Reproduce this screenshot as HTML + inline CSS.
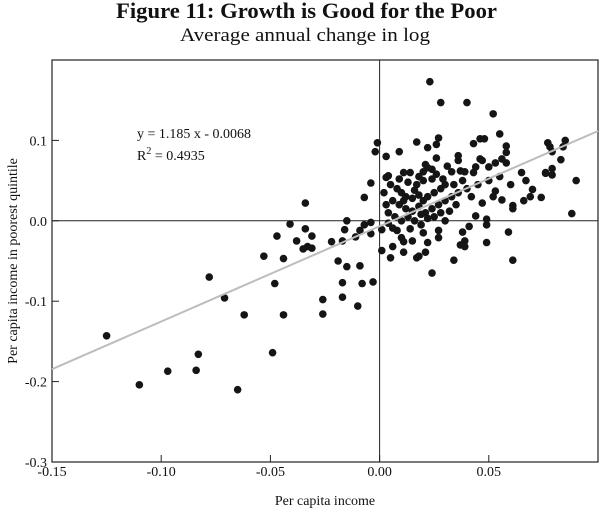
<!DOCTYPE html>
<html><head><meta charset="utf-8"><style>
body{margin:0;background:#fff;}
svg{display:block;font-family:"Liberation Serif",serif;}
</style></head><body>
<svg id="chart" width="600" height="511" viewBox="0 0 600 511">
<text x="116" y="18" font-size="22" font-weight="bold" fill="#111" textLength="381" lengthAdjust="spacingAndGlyphs">Figure 11: Growth is Good for the Poor</text>
<text x="180" y="41" font-size="19" fill="#111" textLength="250" lengthAdjust="spacingAndGlyphs">Average annual change in log</text>
<g id="plot"></g>
<text x="137" y="138" font-size="14" fill="#111">y = 1.185 x - 0.0068</text>
<text x="137" y="160" font-size="14" fill="#111">R<tspan dy="-6" font-size="10">2</tspan><tspan dy="6"> = 0.4935</tspan></text>
<text x="325" y="505" text-anchor="middle" font-size="14" fill="#111">Per capita income</text>
<text transform="translate(17,261) rotate(-90)" text-anchor="middle" font-size="14" fill="#111">Per capita income in poorest quintile</text>
</svg>
<script>
const xTicks=[-0.15,-0.10,-0.05,0.00,0.05];
const xTickLabels=["-0.15","-0.10","-0.05","0.00","0.05"];
const yTicks=[0.1,0.0,-0.1,-0.2,-0.3];
const yTickLabels=["0.1","0.0","-0.1","-0.2","-0.3"];
const slope=1.185, intercept=-0.0068;
const xs=[-0.004,-0.007,-0.034,-0.041,-0.015,-0.034,-0.047,-0.031,-0.038,-0.022,-0.017,-0.011,-0.009,-0.016,-0.007,-0.004,-0.004,-0.035,-0.033,-0.031,-0.053,-0.044,-0.019,-0.015,-0.009,-0.078,-0.048,-0.017,-0.008,-0.003,-0.071,-0.026,-0.017,-0.062,-0.044,-0.026,-0.010,-0.125,-0.083,-0.049,-0.097,-0.084,-0.110,-0.065,
0.023,0.028,0.040,0.052,0.055,-0.001,-0.002,0.003,0.009,0.017,0.022,0.027,0.026,0.026,0.043,0.046,0.048,0.058,0.058,0.056,0.058,0.077,0.078,0.079,0.085,0.084,0.083,0.079,0.076,0.036,0.036,0.031,0.046,0.047,0.044,0.053,0.050,0.021,0.022,0.024,0.020,0.033,0.039,0.043,0.014,0.011,0.004,0.018,
0.003,0.067,0.070,0.069,0.074,0.066,0.061,0.061,0.056,0.053,0.052,0.047,0.044,0.049,0.049,0.059,0.088,0.090,0.076,0.079,0.061,0.049,0.041,0.038,0.039,0.037,0.039,0.034,0.024,0.027,0.027,0.022,0.021,0.018,0.017,0.011,0.006,0.005,0.001,0.010,0.011,0.015,0.006,0.001,
0.005,0.008,0.010,0.012,0.015,0.018,0.020,0.022,0.025,0.028,0.030,0.006,0.009,0.012,0.015,0.018,0.021,0.024,0.027,0.030,0.004,0.007,0.010,0.013,0.016,0.019,0.022,0.025,0.028,0.033,0.036,0.034,0.038,0.040,0.042,0.035,0.032,0.017,0.020,0.024,0.013,0.009,0.002,0.003,0.014,0.008,0.020,0.030,0.045,0.050,0.055,0.060,0.065,0.026,0.016,0.011,0.019,0.004,0.029,0.037];
const ys=[0.047,0.029,0.022,-0.004,0.000,-0.010,-0.019,-0.019,-0.025,-0.026,-0.025,-0.020,-0.012,-0.011,-0.005,-0.002,-0.016,-0.035,-0.032,-0.034,-0.044,-0.047,-0.050,-0.057,-0.056,-0.070,-0.078,-0.077,-0.078,-0.076,-0.096,-0.098,-0.095,-0.117,-0.117,-0.116,-0.106,-0.143,-0.166,-0.164,-0.187,-0.186,-0.204,-0.210,
0.173,0.147,0.147,0.133,0.108,0.097,0.086,0.080,0.086,0.098,0.091,0.103,0.095,0.078,0.096,0.102,0.102,0.093,0.085,0.077,0.072,0.097,0.092,0.086,0.100,0.092,0.076,0.065,0.060,0.081,0.075,0.068,0.077,0.075,0.067,0.072,0.067,0.070,0.066,0.064,0.061,0.061,0.061,0.060,0.060,0.060,0.056,0.055,
0.054,0.050,0.039,0.030,0.029,0.025,0.019,0.015,0.026,0.037,0.030,0.022,0.006,0.002,-0.005,-0.014,0.009,0.050,0.059,0.057,-0.049,-0.027,-0.007,-0.014,-0.025,-0.030,-0.032,-0.049,-0.065,-0.012,-0.021,-0.027,-0.039,-0.044,-0.046,-0.039,-0.032,-0.046,-0.037,-0.021,-0.026,-0.025,-0.009,-0.011,
0.045,0.040,0.035,0.030,0.028,0.032,0.025,0.030,0.035,0.040,0.045,0.025,0.020,0.015,0.012,0.018,0.010,0.015,0.020,0.025,0.010,0.005,0.000,0.005,0.000,-0.005,0.003,0.005,0.010,0.030,0.035,0.045,0.050,0.040,0.030,0.020,0.012,0.045,0.050,0.052,0.048,0.052,0.035,0.020,-0.010,-0.012,-0.015,0.000,0.045,0.050,0.055,0.045,0.060,0.058,0.038,0.025,0.008,-0.003,0.052,0.062];
const L=52,R=598,T=60,B=462,xMin=-0.15,xMax=0.1,yMin=-0.3,yMax=0.2;
const sx=v=>L+(v-xMin)/(xMax-xMin)*(R-L);
const sy=v=>B-(v-yMin)/(yMax-yMin)*(B-T);
const NS="http://www.w3.org/2000/svg";
const g=document.getElementById('plot');
function mk(t,a){const e=document.createElementNS(NS,t);for(const k in a)e.setAttribute(k,a[k]);g.appendChild(e);return e;}
let e;
e=mk('rect',{x:L,y:T,width:R-L,height:B-T,fill:'none',stroke:'#222','stroke-width':1.2});


e=mk('line',{x1:sx(0),x2:sx(0),y1:T,y2:B,stroke:'#222','stroke-width':1});


e=mk('line',{x1:L,x2:R,y1:sy(0),y2:sy(0),stroke:'#222','stroke-width':1});


xTicks.forEach((v,i)=>{
 e=mk('line',{x1:sx(v),x2:sx(v),y1:B,y2:B-7,stroke:'#222'});
 
 
 e=mk('text',{x:sx(v),y:B+14,'text-anchor':'middle','font-size':14,fill:'#111'});
 e.textContent=xTickLabels[i];
 
 
});
yTicks.forEach((v,i)=>{
 e=mk('line',{x1:L,x2:L+7,y1:sy(v),y2:sy(v),stroke:'#222'});
 
 
 e=mk('text',{x:L-5,y:sy(v)+5,'text-anchor':'end','font-size':14,fill:'#111'});
 e.textContent=yTickLabels[i];
 
 
});
xs.forEach((v,i)=>{
 e=mk('circle',{cx:sx(v),cy:sy(ys[i]),r:3.8,fill:'#151515'});
 
 
});
e=mk('line',{x1:sx(xMin),y1:sy(slope*xMin+intercept),x2:sx(xMax),y2:sy(slope*xMax+intercept),stroke:'#bdbdbd','stroke-width':2});


</script>
</body></html>
